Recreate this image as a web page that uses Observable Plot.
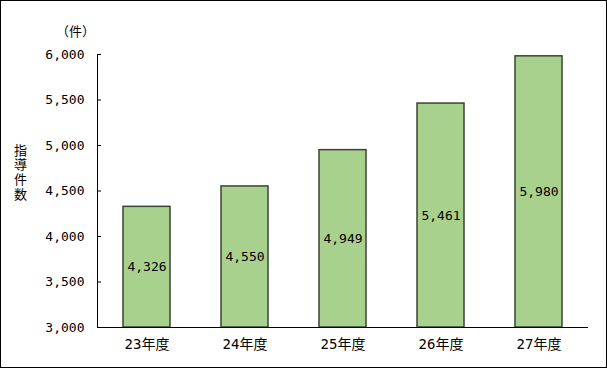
<!DOCTYPE html>
<html>
<head>
<meta charset="utf-8">
<script src="https://cdn.jsdelivr.net/npm/d3@7"></script>
<script src="https://cdn.jsdelivr.net/npm/@observablehq/plot@0.6"></script>
<style>
  html, body { margin: 0; padding: 0; background: #fff; }
  #chart svg { display: block; outline: 1px solid #000; outline-offset: -1px; }
</style>
</head>
<body>
<div id="chart"></div>
<script>
const categories = ["23年度", "24年度", "25年度", "26年度", "27年度"];
const values = [4326, 4550, 4949, 5461, 5980];
const yTicks = [3000, 3500, 4000, 4500, 5000, 5500, 6000];
const yTitle = "指導件数";
const unitLabel = "（件）";
const baseValue = 3000;

const data = categories.map((c, i) => ({cat: c, v: values[i]}));
const fmt = d3.format(",");
const W = 607, H = 368;
const mL = 97, mR = 19, mT = 54, mB = 41;
const plotW = W - mL - mR;

const chart = Plot.plot({
  width: W,
  height: H,
  marginLeft: mL,
  marginRight: mR,
  marginTop: mT,
  marginBottom: mB,
  style: {fontFamily: "'DejaVu Sans Mono', 'Noto Sans CJK JP', sans-serif", fontSize: "13px", color: "#000", background: "#fff"},
  x: {domain: categories, paddingInner: 0.52, paddingOuter: 0.26, label: null},
  y: {domain: [3000, 6000], label: null},
  marks: [
    Plot.barY(data, {x: "cat", y1: baseValue, y2: "v", fill: "#a9d18e", stroke: "#3a4432", strokeWidth: 1.5}),
    Plot.text(data, {x: "cat", y: d => (baseValue + d.v) / 2, text: d => fmt(d.v), fontSize: 13, fill: "#000"}),
    Plot.ruleY(yTicks, {insetRight: plotW - 4, stroke: "#000", strokeWidth: 1}),
    Plot.frame({anchor: "left", stroke: "#000", strokeWidth: 1}),
    Plot.ruleY([baseValue], {stroke: "#000", strokeWidth: 1}),
    Plot.axisY({ticks: yTicks, tickSize: 0, tickPadding: 13, tickFormat: fmt, fontSize: 13, label: null}),
    Plot.axisX({tickSize: 0, tickPadding: 12, fontSize: 14, fontFamily: "'DejaVu Sans Mono', 'Noto Sans CJK JP', sans-serif", label: null}),
    Plot.text([yTitle], {frameAnchor: "left", textAnchor: "middle", dx: -77, dy: -22.5, fontSize: 13, fontFamily: "'Noto Sans CJK JP', sans-serif", fill: "#000"}),
    Plot.text([unitLabel], {frameAnchor: "top-left", textAnchor: "middle", dx: -22, dy: -28, fontSize: 13, fontFamily: "'Noto Sans CJK JP', sans-serif", fill: "#000"})
  ]
});
// render the y title vertically (stacked, upright characters)
d3.select(chart).selectAll("text").filter(function() { return this.textContent === yTitle; })
  .attr("dy", null)
  .style("writing-mode", "vertical-rl")
  .style("text-orientation", "upright")
  .style("letter-spacing", "1.7px");
document.getElementById("chart").appendChild(chart);
</script>
</body>
</html>
